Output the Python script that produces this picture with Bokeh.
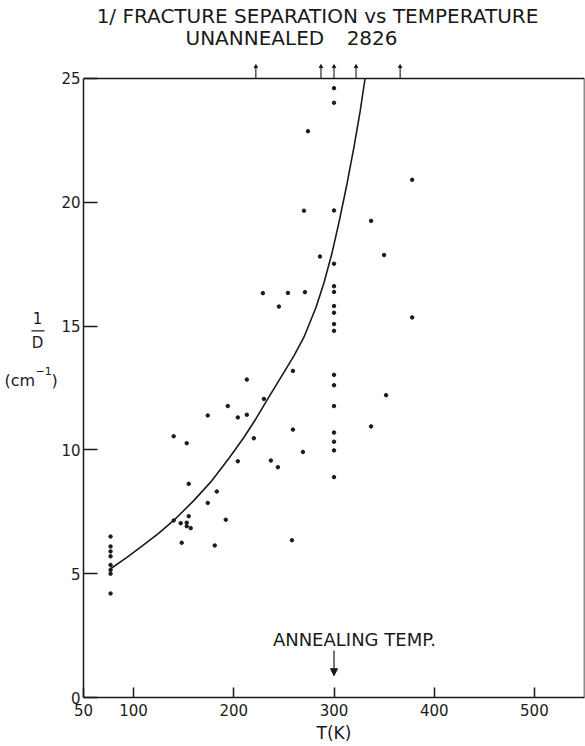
from bokeh.plotting import figure
from bokeh.layouts import row
from bokeh.models import Range1d, FixedTicker, Label, Arrow, NormalHead
from bokeh.core.properties import value
from bokeh.embed import file_html
from bokeh.resources import INLINE

# ---- data ----
temp_77 = [77, 77, 77, 77, 77, 77, 77, 77]
inv_d_77 = [6.5, 6.1, 5.9, 5.7, 5.35, 5.15, 5.0, 4.2]

temp_mid = [140, 147, 148, 153, 153, 155, 155, 157, 174, 181, 183, 192,
            140, 153, 174, 194, 204, 204, 213, 213, 220, 229, 230, 237,
            244, 245, 254, 258, 259, 259, 269, 270, 271, 274, 286]
inv_d_mid = [7.15, 7.04, 6.25, 7.06, 6.92, 7.32, 8.63, 6.84, 7.86, 6.14, 8.32, 7.18,
             10.55, 10.27, 11.39, 11.77, 11.31, 9.54, 11.42, 12.84, 10.47, 16.33, 12.06, 9.57,
             9.30, 15.79, 16.34, 6.35, 13.19, 10.82, 9.92, 19.66, 16.37, 22.87, 17.81]

temp_300 = [300] * 17
inv_d_300 = [24.61, 24.02, 19.67, 17.52, 16.61, 16.38, 15.81, 15.54, 15.08, 14.81,
             13.03, 12.61, 11.77, 10.70, 10.33, 9.98, 8.90]

temp_hi = [337, 337, 350, 352, 378, 378]
inv_d_hi = [19.25, 10.95, 17.87, 12.21, 20.91, 15.35]

curve_t = [77, 93, 108, 124, 140, 160, 178, 195, 210, 222, 233, 245, 260, 270, 282,
           290, 298, 305, 313, 320, 326, 331]
curve_v = [5.2, 5.65, 6.1, 6.6, 7.15, 7.95, 8.75, 9.65, 10.5, 11.25, 12.0, 12.8, 13.8, 14.55, 15.75,
           16.75, 17.95, 19.2, 20.75, 22.25, 23.65, 25.0]

top_marks = [222, 287, 300, 322, 366]
anneal_t = 300

x_ticks = [50, 100, 200, 300, 400, 500]
y_ticks = [0, 5, 10, 15, 20, 25]
X_MIN, X_MAX = 50, 550
Y_MIN, Y_MAX = 0, 25

title1 = "1/ FRACTURE SEPARATION vs TEMPERATURE"
title2a = "UNANNEALED"
title2b = "2826"
x_label = "T(K)"
anneal_label = "ANNEALING TEMP."

FONT = "DejaVu Sans"
INK = "#1a1a1a"

# ---------- left panel: y-axis title "1/D (cm^-1)" ----------
lp = figure(width=58, height=746, x_range=Range1d(0, 58), y_range=Range1d(746, 0),
            x_axis_type=None, y_axis_type=None, output_backend="svg", toolbar_location=None,
            min_border=0)
lp.outline_line_color = None
lp.grid.visible = False
lp.text(x=[37, 37], y=[340, 367], text=["1", "D"], text_font=value(FONT), text_font_size="15px",
        text_color=INK, text_align="center", text_baseline="middle")
lp.segment(x0=[31], y0=[353.5], x1=[44], y1=[353.5], line_color=INK, line_width=1.3)
lp.text(x=[4], y=[407], text=["(cm"], text_font=value(FONT), text_font_size="16px",
        text_color=INK, text_align="left", text_baseline="middle")
lp.text(x=[35], y=[397], text=["\u22121"], text_font=value(FONT), text_font_size="11px",
        text_color=INK, text_align="left", text_baseline="middle")
lp.text(x=[51], y=[407], text=[")"], text_font=value(FONT), text_font_size="16px",
        text_color=INK, text_align="left", text_baseline="middle")

# ---------- main plot ----------
p = figure(width=527, height=746, x_range=Range1d(X_MIN, X_MAX), y_range=Range1d(Y_MIN, 28.15),
           output_backend="svg", toolbar_location=None,
           min_border_left=25, min_border_right=1, min_border_top=0, min_border_bottom=49)
p.outline_line_color = None
p.grid.visible = False

for ax in (p.xaxis[0], p.yaxis[0]):
    ax.axis_line_width = 1.5
    ax.axis_line_color = INK
    ax.major_tick_line_color = INK
    ax.major_tick_line_width = 1.5
    ax.minor_tick_line_color = None
    ax.major_tick_out = 0
    ax.major_label_text_font = FONT
    ax.major_label_text_font_size = "15px"
    ax.major_label_text_color = INK

p.xaxis.ticker = FixedTicker(ticks=x_ticks)
p.xaxis.bounds = (X_MIN, X_MAX)
p.xaxis.major_tick_in = 10
p.xaxis.major_label_standoff = 6
p.xaxis.axis_label = x_label
p.xaxis.axis_label_text_font = FONT
p.xaxis.axis_label_text_font_size = "17px"
p.xaxis.axis_label_text_font_style = "normal"
p.xaxis.axis_label_text_color = INK
p.xaxis.axis_label_standoff = 4

p.yaxis.ticker = FixedTicker(ticks=y_ticks)
p.yaxis.bounds = (Y_MIN, Y_MAX)
p.yaxis.major_tick_in = 14
p.yaxis.major_label_standoff = 3

# frame top and right
p.segment(x0=[X_MIN, X_MAX], y0=[Y_MAX, Y_MIN], x1=[X_MAX, X_MAX], y1=[Y_MAX, Y_MAX],
          line_color=INK, line_width=1.5)

# marks above the top edge
p.segment(x0=top_marks, y0=[Y_MAX] * len(top_marks), x1=top_marks, y1=[Y_MAX + 0.48] * len(top_marks),
          line_color=INK, line_width=1.1)
p.scatter(top_marks, [Y_MAX + 0.48] * len(top_marks), marker="triangle", size=3.5, color=INK)

# fitted curve
p.line(curve_t, curve_v, line_color=INK, line_width=1.6)

# data points
for xs, ys in ((temp_77, inv_d_77), (temp_mid, inv_d_mid), (temp_300, inv_d_300), (temp_hi, inv_d_hi)):
    p.scatter(xs, ys, size=3.5, color=INK)

# annealing temperature arrow
p.add_layout(Arrow(end=NormalHead(size=7, fill_color=INK, line_color=INK), x_start=anneal_t, y_start=1.9,
                   x_end=anneal_t, y_end=0.88, line_color=INK, line_width=1.2))
p.add_layout(Label(x=239, y=2.34, text=anneal_label, text_font=FONT, text_font_size="18px",
                   text_color=INK, text_align="left", text_baseline="middle"))

# titles
p.add_layout(Label(x=283.5, y=27.52, text=title1, text_font=FONT, text_font_size="20px",
                   text_color=INK, text_align="center", text_baseline="middle"))
p.add_layout(Label(x=221, y=26.64, text=title2a, text_font=FONT, text_font_size="20px",
                   text_color=INK, text_align="center", text_baseline="middle"))
p.add_layout(Label(x=338, y=26.64, text=title2b, text_font=FONT, text_font_size="20px",
                   text_color=INK, text_align="center", text_baseline="middle"))

open("out.html", "w").write(file_html(row(lp, p), INLINE))
